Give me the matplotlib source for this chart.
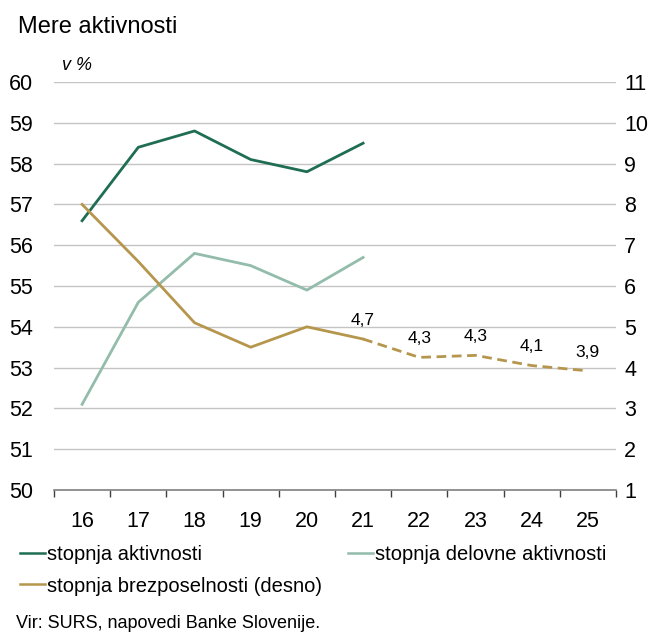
import matplotlib
matplotlib.use("Agg")
import matplotlib.pyplot as plt
from matplotlib.lines import Line2D

plt.rcParams["font.family"] = ["Liberation Sans", "DejaVu Sans"]

# data
years = ["16", "17", "18", "19", "20", "21", "22", "23", "24", "25"]
aktivnost = [56.6, 58.4, 58.8, 58.1, 57.8, 58.5]
delovna = [52.1, 54.6, 55.8, 55.5, 54.9, 55.7]
brezposelnost = [8.0, 6.6, 5.1, 4.5, 5.0, 4.7]
brezposelnost_napoved = [4.7, 4.25, 4.3, 4.05, 3.92]
napoved_labels = ["4,7", "4,3", "4,3", "4,1", "3,9"]

c_dark = "#1f6d54"
c_light = "#93bcab"
c_gold = "#b5964c"
grid_c = "#c4c4c4"

W, H = 653, 634
fig = plt.figure(figsize=(W / 100, H / 100), dpi=100)
ax = fig.add_axes([54 / W, 1 - 490 / H, 562 / W, 408 / H])
ax2 = ax.twinx()

x = list(range(len(years)))
ax.plot(x[:6], aktivnost, color=c_dark, lw=2)
ax.plot(x[:6], delovna, color=c_light, lw=2)
ax2.plot(x[:6], brezposelnost, color=c_gold, lw=2)
ax2.plot(x[5:], brezposelnost_napoved, color=c_gold, lw=2, ls=(0, (3.5, 2)))
for xi, v, lab in zip(x[5:], brezposelnost_napoved, napoved_labels):
    ax2.annotate(lab, (xi, v), xytext=(0, 8), textcoords="offset points",
                 ha="center", va="bottom", fontsize=12.5)

ax.set_xlim(-0.5, 9.5)
ax.set_ylim(50, 60)
ax2.set_ylim(1, 11)
ax.set_yticks(range(50, 61))
ax2.set_yticks(range(1, 12))
ax.set_xticks(x)
ax.set_xticklabels(years)
ax.set_xticks([i - 0.5 for i in range(11)], minor=True)

ax.grid(axis="y", color=grid_c, lw=1)
ax.set_axisbelow(True)
for a in (ax, ax2):
    for s in a.spines.values():
        s.set_visible(False)
ax.spines["bottom"].set_visible(True)
ax.spines["bottom"].set_color("#808080")
ax.spines["bottom"].set_linewidth(1.2)
ax.tick_params(axis="x", which="major", length=0, labelsize=15.5, pad=15)
ax.tick_params(axis="x", which="minor", length=5, color="#404040", width=1)
ax.tick_params(axis="y", length=0, labelsize=15.5, pad=15)
ax2.tick_params(axis="y", length=0, labelsize=15.5, pad=6)

fig.text(18 / W, 1 - 27 / H, "Mere aktivnosti", fontsize=17, va="center")
fig.text(62 / W, 1 - 66 / H, "v %", fontsize=13, style="italic", va="center")

# legend, one entry at a time so each sits where the reference has it
entries = [
    (c_dark, "stopnja aktivnosti", 20, 555),
    (c_light, "stopnja delovne aktivnosti", 348, 555),
    (c_gold, "stopnja brezposelnosti (desno)", 20, 586),
]
for col, lab, lx, ly in entries:
    fig.legend([Line2D([], [], color=col, lw=1.8)], [lab], loc="center left",
               bbox_to_anchor=(lx / W, 1 - ly / H), frameon=False, fontsize=14.5,
               handlelength=1.25, handletextpad=0.1, borderpad=0, borderaxespad=0)

fig.text(16 / W, 1 - 624 / H, "Vir: SURS, napovedi Banke Slovenije.", fontsize=13, va="center")

fig.savefig("out.png", dpi=100)
